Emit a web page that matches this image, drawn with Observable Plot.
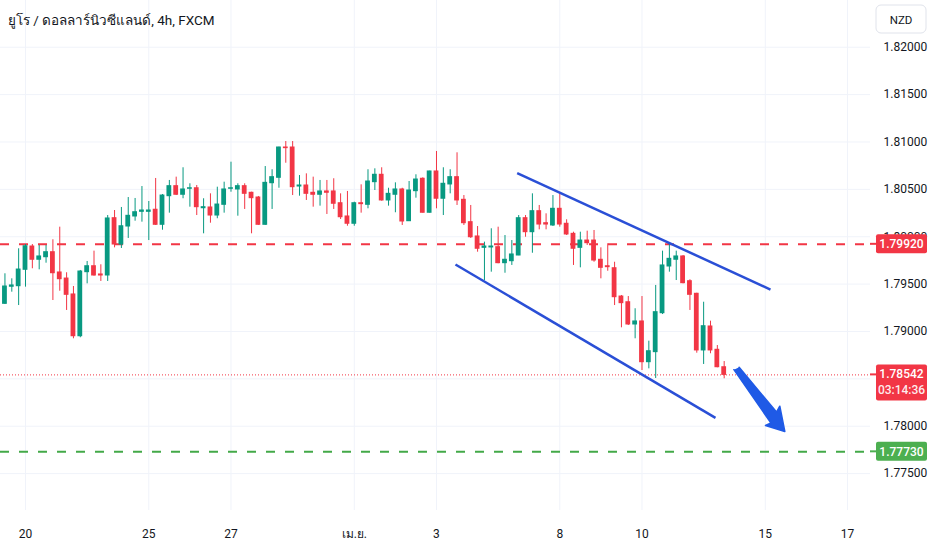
<!DOCTYPE html>
<html><head><meta charset="utf-8">
<script src="https://cdn.jsdelivr.net/npm/d3@7"></script>
<script src="https://cdn.jsdelivr.net/npm/@observablehq/plot@0.6"></script>
<style>body{margin:0;background:#fff;overflow:hidden}</style>
</head><body><div id="chart"></div>
<script>
// ---- data: EUR/NZD 4h candles, index 0 = 20 Mar 00:00 (trading candles) ----
const startIndex = -3;
const opens = [1.79292,1.79472,1.79478,1.79651,1.79897,1.79757,1.79784,1.79837,1.79623,1.79559,1.79391,1.78950,1.79626,1.79689,1.79602,1.79591,1.80196,1.79918,1.80108,1.80214,1.80263,1.80263,1.80285,1.80126,1.80428,1.80534,1.80443,1.80506,1.80512,1.80301,1.80309,1.80224,1.80337,1.80506,1.80499,1.80534,1.80464,1.80414,1.80126,1.80565,1.80622,1.80942,1.80942,1.80530,1.80541,1.80464,1.80443,1.80478,1.80478,1.80354,1.80214,1.80137,1.80354,1.80337,1.80576,1.80654,1.80383,1.80443,1.80499,1.80164,1.80481,1.80612,1.80253,1.80689,1.80401,1.80552,1.80629,1.80390,1.80154,1.80003,1.79883,1.79887,1.79890,1.79721,1.79742,1.79802,1.80196,1.80048,1.80270,1.80143,1.80119,1.80295,1.80137,1.80031,1.79883,1.79960,1.79960,1.79757,1.79689,1.79668,1.79369,1.79309,1.79074,1.79106,1.78676,1.78782,1.79193,1.79686,1.79757,1.79792,1.79531,1.79398,1.78800,1.79053,1.78807,1.78623];
const highs = [1.79609,1.79556,1.79873,1.79918,1.79918,1.79908,1.79908,1.79968,1.80101,1.79620,1.79475,1.79644,1.79739,1.79848,1.79704,1.80224,1.80277,1.80309,1.80414,1.80404,1.80530,1.80372,1.80615,1.80446,1.80594,1.80629,1.80728,1.80559,1.80541,1.80401,1.80453,1.80523,1.80576,1.80787,1.80559,1.80559,1.80470,1.80425,1.80741,1.80707,1.80945,1.81005,1.81005,1.80646,1.80664,1.80629,1.80594,1.80594,1.80612,1.80453,1.80478,1.80365,1.80548,1.80707,1.80717,1.80728,1.80512,1.80569,1.80512,1.80583,1.80654,1.80622,1.80692,1.80900,1.80728,1.80707,1.80886,1.80435,1.80330,1.80108,1.79943,1.80084,1.80101,1.80013,1.79960,1.80224,1.80224,1.80453,1.80330,1.80242,1.80435,1.80453,1.80179,1.80048,1.80048,1.80059,1.80066,1.79883,1.79926,1.79731,1.79380,1.79369,1.79240,1.79369,1.78898,1.79486,1.79848,1.79926,1.79848,1.79802,1.79546,1.79404,1.79309,1.79109,1.78852,1.78683];
const lows = [1.79285,1.79415,1.79274,1.79468,1.79662,1.79651,1.79721,1.79327,1.79425,1.79222,1.78923,1.78934,1.79503,1.79584,1.79528,1.79528,1.79883,1.79876,1.79982,1.80164,1.80154,1.79960,1.80119,1.80069,1.80249,1.80435,1.80401,1.80312,1.80224,1.80031,1.80143,1.80190,1.80249,1.80470,1.80217,1.80288,1.80031,1.80120,1.80120,1.80288,1.80512,1.80776,1.80435,1.80428,1.80383,1.80312,1.80323,1.80235,1.80288,1.80182,1.80111,1.80111,1.80249,1.80295,1.80488,1.80375,1.80323,1.80253,1.80119,1.80161,1.80407,1.80250,1.80250,1.80295,1.80224,1.80453,1.80330,1.80119,1.79982,1.79837,1.79538,1.79626,1.79715,1.79615,1.79697,1.79800,1.79995,1.79826,1.80073,1.80073,1.80108,1.80101,1.80013,1.79697,1.79672,1.79908,1.79731,1.79556,1.79636,1.79274,1.79039,1.79063,1.78923,1.78588,1.78606,1.78504,1.79179,1.79626,1.79538,1.79503,1.79222,1.78771,1.78652,1.78765,1.78617,1.78501];
const closes = [1.79475,1.79486,1.79654,1.79900,1.79757,1.79792,1.79837,1.79615,1.79552,1.79387,1.78950,1.79633,1.79689,1.79591,1.79591,1.80193,1.79918,1.80111,1.80221,1.80259,1.80277,1.80277,1.80126,1.80435,1.80534,1.80443,1.80499,1.80512,1.80312,1.80312,1.80224,1.80340,1.80499,1.80512,1.80534,1.80453,1.80407,1.80126,1.80569,1.80629,1.80942,1.80935,1.80523,1.80541,1.80453,1.80443,1.80478,1.80464,1.80348,1.80206,1.80137,1.80354,1.80344,1.80583,1.80654,1.80383,1.80453,1.80499,1.80161,1.80488,1.80604,1.80253,1.80689,1.80401,1.80559,1.80629,1.80383,1.80143,1.79995,1.79873,1.79897,1.79897,1.79721,1.79757,1.79813,1.80196,1.80048,1.80270,1.80129,1.80129,1.80295,1.80129,1.80024,1.79873,1.79960,1.79932,1.79749,1.79672,1.79679,1.79362,1.79299,1.79074,1.79106,1.78676,1.78792,1.79204,1.79697,1.79767,1.79792,1.79510,1.79387,1.78800,1.79056,1.78800,1.78623,1.78542];

// x-axis ticks (candle index) and labels
const tickIdx = [0, 18, 30, 48, 60, 78, 90, 108, 120];
const tickLabels = ["20", "25", "27", "เม.ย.", "3", "8", "10", "15", "17"];
// y-axis grid and labelled ticks (1.78500 is hidden under the price tag)
const priceGrid = [1.775, 1.78, 1.785, 1.79, 1.795, 1.80, 1.805, 1.81, 1.815, 1.82];
const priceLabels = [1.775, 1.78, 1.79, 1.795, 1.80, 1.805, 1.81, 1.815, 1.82];

// levels
const resistanceLevel = 1.7992;
const targetLevel = 1.7773;
const lastPrice = 1.78542;
const countdown = "03:14:36";

// drawn channel lines (candle index, price)
const upperIdx = [71.78, 108.76];
const upperPrice = [1.80671, 1.79443];
const lowerIdx = [62.77, 100.73];
const lowerPrice = [1.79707, 1.78089];
// arrow outline (candle index, price)
const arrowIdx = [104.18, 109.64, 110.12, 110.85, 108.03, 108.83, 103.42];
const arrowPrice = [1.78622, 1.78150, 1.78212, 1.77945, 1.78008, 1.78034, 1.78597];

const title = "ยูโร / ดอลลาร์นิวซีแลนด์, 4h, FXCM";

// ---- build ----
const candles = opens.map((o, k) => ({i: startIndex + k, open: o, high: highs[k], low: lows[k], close: closes[k]}));
const GREEN = "#089981", RED = "#f23645", LGREEN = "#43a948", BLUE = "#2a4fd6", ABLUE = "#1f5ae6";
const col = d => d.close >= d.open ? GREEN : RED;
const channels = [
  {x1: upperIdx[0], y1: upperPrice[0], x2: upperIdx[1], y2: upperPrice[1]},
  {x1: lowerIdx[0], y1: lowerPrice[0], x2: lowerIdx[1], y2: lowerPrice[1]}
];
const arrow = arrowIdx.map((x, k) => ({x, y: arrowPrice[k]}));
const FONT = "Roboto, 'Noto Sans', 'DejaVu Sans', sans-serif";

const chart = Plot.plot({
  width: 932, height: 550,
  marginLeft: 0, marginRight: 62, marginTop: 0, marginBottom: 40,
  style: {fontFamily: FONT, fontSize: "12px", color: "#131722", background: "#fff"},
  x: {domain: [-3.65, 123.36]},
  y: {domain: [1.771108, 1.824934]},
  color: {type: "identity"},
  marks: [
    Plot.gridX(tickIdx, {stroke: "#f0f3fa", strokeOpacity: 1}),
    Plot.gridY(priceGrid, {stroke: "#f0f3fa", strokeOpacity: 1}),
    Plot.axisY(priceLabels, {anchor: "right", tickSize: 0, tickPadding: 13, tickFormat: d3.format(".5f"), fill: "#131722", fontSize: 12}),
    Plot.axisX(tickIdx, {anchor: "bottom", tickSize: 0, tickPadding: 19, tickFormat: d => tickLabels[tickIdx.indexOf(d)], fill: "#131722", fontSize: 12}),
    Plot.ruleY([resistanceLevel], {stroke: RED, strokeWidth: 2, strokeDasharray: "9,10"}),
    Plot.ruleY([targetLevel], {stroke: LGREEN, strokeWidth: 2, strokeDasharray: "9,10"}),
    Plot.ruleY([lastPrice], {stroke: RED, strokeWidth: 1, strokeDasharray: "1,2"}),
    Plot.ruleX(candles, {x: "i", y1: "low", y2: "high", stroke: col, strokeWidth: 1}),
    Plot.rect(candles, {x1: d => d.i - 0.35, x2: d => d.i + 0.35, y1: "open", y2: "close", fill: col, insetTop: -0.5, insetBottom: -0.5}),
    Plot.link(channels, {x1: "x1", y1: "y1", x2: "x2", y2: "y2", stroke: BLUE, strokeWidth: 2.5}),
    Plot.line(arrow, {x: "x", y: "y", fill: ABLUE, stroke: ABLUE, strokeWidth: 1.5, strokeLinejoin: "round"})
  ]
});
document.getElementById("chart").appendChild(chart);

// ---- overlays positioned with the plot's own y scale ----
const sy = chart.scale("y");
const svg = d3.select(chart);
svg.append("text").attr("x", 8).attr("y", 25).attr("font-size", 13.5).attr("fill", "#131722")
  .attr("text-anchor", "start").attr("font-family", FONT).text(title);
const nzd = svg.append("g");
nzd.append("rect").attr("x", 876).attr("y", 5).attr("width", 50).attr("height", 28).attr("rx", 5)
  .attr("fill", "#fff").attr("stroke", "#e0e3eb");
nzd.append("text").attr("x", 901).attr("y", 23.5).attr("text-anchor", "middle").attr("font-size", 11.5)
  .attr("font-family", FONT).attr("fill", "#131722").text("NZD");

function priceTag(value, color, lines) {
  const cy = sy.apply(value);
  const h = lines.length === 1 ? 19 : 36;
  const top = lines.length === 1 ? cy - h / 2 : cy - 10;
  const g = svg.append("g");
  g.append("line").attr("x1", 870).attr("x2", 877).attr("y1", cy).attr("y2", cy).attr("stroke", color).attr("stroke-width", 2);
  g.append("rect").attr("x", 876).attr("y", top).attr("width", 51).attr("height", h).attr("rx", 2).attr("fill", color);
  lines.forEach((t, k) => {
    g.append("text").attr("x", 901.5).attr("y", top + 14 + k * 16).attr("text-anchor", "middle")
      .attr("font-size", 12).attr("font-weight", 500).attr("font-family", FONT)
      .attr("fill", "#fff").attr("fill-opacity", k === 0 ? 1 : 0.92).text(t);
  });
}
priceTag(resistanceLevel, RED, [d3.format(".5f")(resistanceLevel)]);
priceTag(lastPrice, RED, [d3.format(".5f")(lastPrice), countdown]);
priceTag(targetLevel, "#4caf50", [d3.format(".5f")(targetLevel)]);
</script>
</body></html>
